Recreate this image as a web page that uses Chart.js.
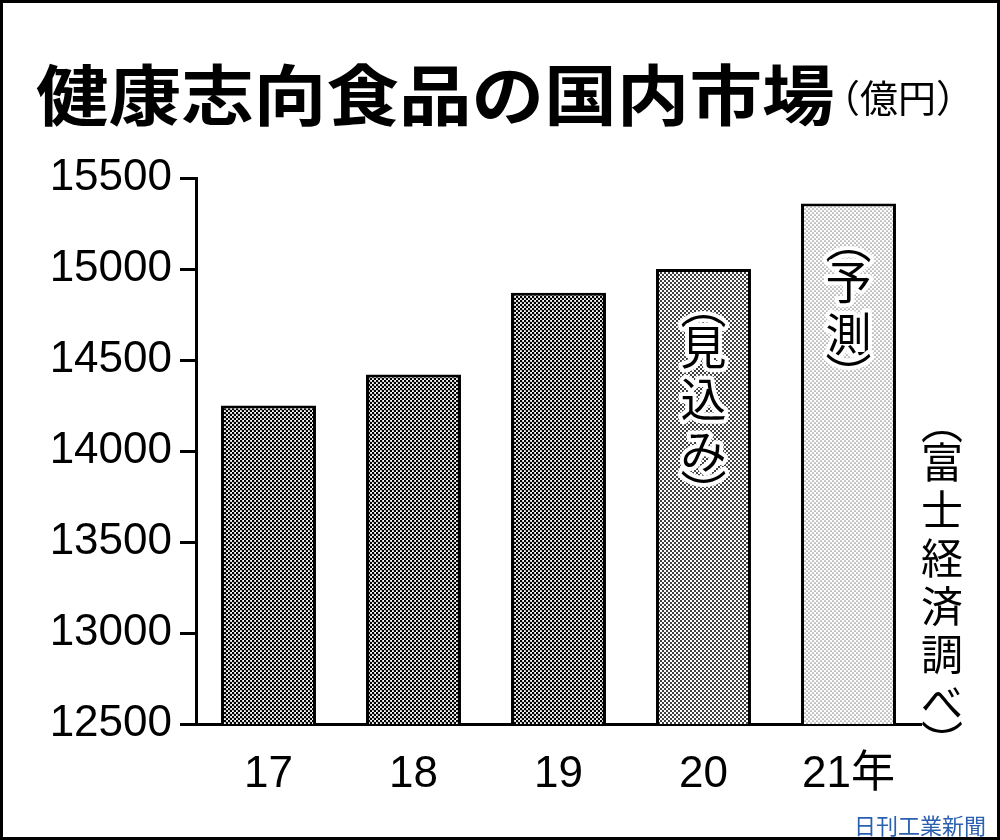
<!DOCTYPE html>
<html><head><meta charset="utf-8">
<script src="https://cdn.jsdelivr.net/npm/chart.js@4"></script>
<style>html,body{margin:0;padding:0;background:#fff}#w{width:1000px;height:840px;position:relative}</style>
</head><body><div id="w"><canvas id="c" width="1000" height="840"></canvas></div>
<script>
const categories = ['17','18','19','20','21年'];
const values = [14250, 14420, 14870, 15000, 15360];
const yTicks = [12500,13000,13500,14000,14500,15000,15500];
const barNotes = ['', '', '', '︵見込み︶', '︵予測︶'];
const title = '健康志向食品の国内市場';
const unit = '（億円）';
const source = '︵富士経済調べ︶';
const credit = '日刊工業新聞';

function pat(step, r, bg){
  const p=document.createElement('canvas');p.width=step;p.height=step;
  const g=p.getContext('2d');g.fillStyle=bg;g.fillRect(0,0,step,step);
  g.fillStyle='#000';
  g.beginPath();g.arc(step/4,step/4,r,0,7);g.arc(step*3/4,step*3/4,r,0,7);g.fill();
  return g.createPattern(p,'repeat');
}
const ctx0=document.getElementById('c').getContext('2d');
const dark=pat(4,1.3,'#fff'), mid=pat(4,1.0,'#fff'), light=pat(4,0.6,'#fff');
const fills=[dark,dark,dark,mid,light];
const CJK='"Noto Sans CJK JP", sans-serif';

const deco={id:'deco',
 afterDatasetsDraw(ch){
  const c=ch.ctx, y=ch.scales.y, x=ch.scales.x;
  c.save();
  c.lineWidth=3;c.strokeStyle='#000';c.strokeRect(1.5,1.5,997,837);
  c.fillStyle='#000';c.textBaseline='alphabetic';
  c.save();c.translate(36,120);c.scale(1.1,1);
  c.font='bold 66px '+CJK;c.fillText(title,0,0);c.restore();
  c.font='38px '+CJK;c.fillText(unit,822,112);
  c.textAlign='center';c.textBaseline='middle';
  barNotes.forEach((t,i)=>{
    if(!t)return;
    const cx=x.getPixelForValue(i);
    let yy=y.getPixelForValue(values[i])+22;
    c.font='46px '+CJK;
    for(const ch2 of t){
      const h=(ch2==='︵'||ch2==='︶')?30:52;
      const cy=yy+h/2;
      c.lineWidth=8;c.strokeStyle='#fff';c.lineJoin='round';
      c.strokeText(ch2,cx,cy);c.fillText(ch2,cx,cy);
      yy+=h;
    }
  });
  c.font='42px '+CJK;let yy=408;
  for(const ch2 of source){const h=(ch2==='︵'||ch2==='︶')?30:48;c.fillText(ch2,942,yy+h/2);yy+=h;}
  c.font='22px '+CJK;c.fillStyle='#2b5fb0';c.fillText(credit,920,826);
  c.restore();
 }};

new Chart(ctx0,{type:'bar',
 data:{labels:categories,datasets:[{data:values,backgroundColor:fills,borderColor:'#000',borderWidth:3,borderSkipped:false,categoryPercentage:1,barPercentage:0.655}]},
 options:{responsive:false,animation:false,
  layout:{padding:{top:178,right:79,left:0,bottom:0}},
  plugins:{legend:{display:false},tooltip:{enabled:false}},
  scales:{
   y:{min:12500,max:15500,afterBuildTicks(s){s.ticks=yTicks.map(v=>({value:v}));},
      afterFit(s){s.width=196;},
      border:{color:'#000',width:3},
      grid:{drawOnChartArea:false,color:'#000',lineWidth:3,tickLength:16},
      ticks:{color:'#000',padding:8,callback:v=>String(v),font:{family:'"Liberation Sans", Arial',size:44}}},
   x:{afterFit(s){s.height=116;},
      border:{color:'#000',width:3},
      grid:{display:false},
      ticks:{color:'#000',padding:16,font:{family:'"Liberation Sans", "Noto Sans CJK JP"',size:44}}}
  }},
 plugins:[deco]});
</script></body></html>
